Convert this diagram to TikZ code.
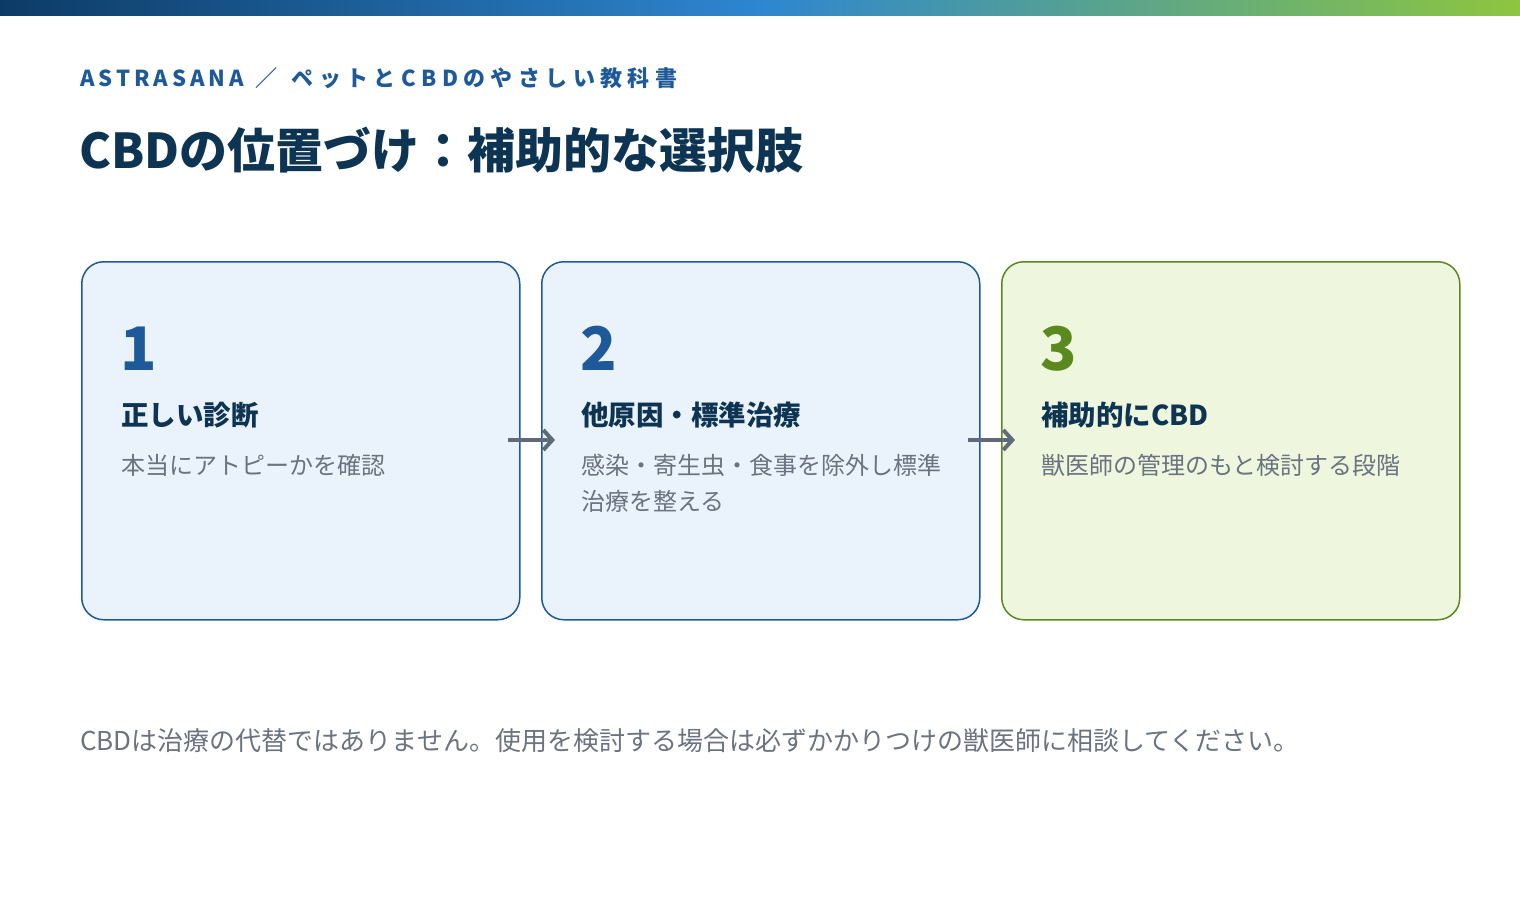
\documentclass[tikz,border=0pt]{standalone}
\usepackage{fontspec}
\setmainfont{Noto Sans CJK JP}
\newfontfamily\brandfont[LetterSpace=18]{Noto Sans CJK JP}
\usetikzlibrary{positioning,arrows.meta}
\definecolor{navy}{HTML}{0D3553}
\definecolor{stepblue}{HTML}{1E5A99}
\definecolor{stepgreen}{HTML}{5A8A1F}
\definecolor{boxblue}{HTML}{EAF2FB}
\definecolor{boxgreen}{HTML}{EEF7DE}
\definecolor{bodygray}{HTML}{6B7280}
\definecolor{arrowgray}{HTML}{5F6B7A}
\definecolor{barA}{HTML}{0D3B66}
\definecolor{barB}{HTML}{2E86D0}
\definecolor{barC}{HTML}{8DC63F}
\newcommand\jk{\kern5.4pt}

\tikzset{
  stepbox/.style={draw=stepblue,fill=boxblue,line width=1.5pt,rounded corners=22pt,
    minimum width=438pt,minimum height=358pt,anchor=north west,inner sep=0pt},
  stepnum/.style={anchor=base west,inner sep=0pt,font=\fontsize{60}{60}\selectfont\bfseries,text=stepblue},
  stephead/.style={anchor=base west,inner sep=0pt,font=\fontsize{27.5}{27.5}\selectfont\bfseries,text=navy},
  stepbody/.style={anchor=north west,inner sep=0pt,align=left,text=bodygray,
    font=\fontsize{24}{36}\selectfont},
  flow/.style={->,arrowgray,line width=4pt,>={Straight Barb[length=9pt,width=20pt]}}
}

\begin{document}
\begin{tikzpicture}[x=1pt,y=-1pt]
\useasboundingbox (0,0) rectangle (1520,900);
% top bar
\shade[left color=barA,right color=barC,middle color=barB] (0,0) rectangle (1520,15);

\node[anchor=base west,inner sep=0pt,text=stepblue,font=\brandfont\fontsize{22}{22}\selectfont\bfseries] (brand)
  at (80,86) {ASTRASANA\hspace{12pt}／\hspace{14pt}ペ\jk ッ\jk ト\jk と\jk C\jk B\jk D\jk の\jk や\jk さ\jk し\jk い\jk 教\jk 科\jk 書};
\node[anchor=base west,inner sep=0pt,text=navy,font=\fontsize{48}{48}\selectfont\bfseries] (title)
  at (79,168) {CBDの位置づけ：補助的な選択肢};

% steps
\node[stepbox] (one) at (81,261) {};
\node[stepbox] (two) at (541,261) {};
\node[stepbox,draw=stepgreen,fill=boxgreen,minimum width=458pt] (three) at (1001,261) {};

\node[stepnum] (n1) at (120,370) {1};
\node[stephead] (h1) at (121,425) {正しい診断};
\node[stepbody] (b1) at (121,454) {本当にアトピーかを確認};

\node[stepnum] (n2) at (580,370) {2};
\node[stephead] (h2) at (581,425) {他原因・標準治療};
\node[stepbody] (b2) at (581,454) {感染・寄生虫・食事を除外し標準\\治療を整える};

\node[stepnum,text=stepgreen] (n3) at (1040,370) {3};
\node[stephead] (h3) at (1041,425) {補助的にCBD};
\node[stepbody] (b3) at (1041,454) {獣医師の管理のもと検討する段階};

\coordinate (a1s) at (508,440); \coordinate (a1e) at (555,440);
\coordinate (a2s) at (968,440); \coordinate (a2e) at (1015,440);
\draw[flow] (a1s) -- (a1e);
\draw[flow] (a2s) -- (a2e);

\node[anchor=base west,inner sep=0pt,text=bodygray,font=\fontsize{26}{26}\selectfont] (note)
  at (80,750) {CBDは治療の代替ではありません。使用を検討する場合は必ずかかりつけの獣医師に相談してください。};
\end{tikzpicture}
\end{document}
